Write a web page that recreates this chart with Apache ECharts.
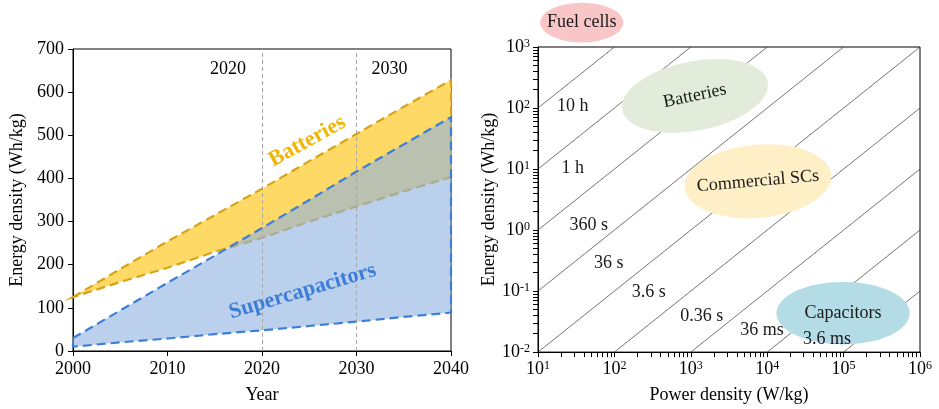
<!DOCTYPE html>
<html>
<head>
<meta charset="utf-8">
<script src="https://cdn.jsdelivr.net/npm/echarts@6/dist/echarts.min.js"></script>
<style>
  html, body { margin: 0; padding: 0; background: #fff; }
  #chart { width: 939px; height: 409px; }
</style>
</head>
<body>
<div id="chart"></div>
<script>
// ---- Left panel: energy density outlook (Wh/kg) ----
const years       = [2000, 2005, 2010, 2015, 2020, 2025, 2030, 2035, 2040];
const batteryLow  = [125, 160, 193, 230, 262, 300, 335, 370, 403];
const batteryHigh = [125, 190, 254, 315, 376, 440, 503, 566, 628];
const scLow       = [10, 20, 29, 39, 48, 58, 68, 79, 89];
const scHigh      = [30, 94, 158, 221, 285, 350, 416, 479, 542];
const milestoneYears = [2020, 2030];

// Text notes on the left panel: [text, year, Wh/kg]
const trendNotes  = [['2020', 2016.4, 653], ['2030', 2033.5, 653]];
const bandNotes   = [['Batteries', 2024.8, 486], ['Supercapacitors', 2024.3, 138]];

// ---- Right panel: Ragone plot ----
// Discharge-time guide lines, in hours (E = t * P)
const dischargeHours  = [10, 1, 0.1, 0.01, 1e-3, 1e-4, 1e-5, 1e-6, 1e-7];
const dischargeLabels = ['10 h', '1 h', '360 s', '36 s', '3.6 s', '0.36 s', '36 ms', '3.6 ms'];
const dischargeLabelP = [28.5, 28.5, 46.1, 84.5, 282, 1396, 8551, 60800];
const dischargeLabelE = [108.6, 10.3, 1.22, 0.282, 0.0953, 0.0388, 0.0230, 0.0164];

// Device regions: centre (W/kg, Wh/kg) and half extent in decades
const devices          = ['Fuel cells', 'Batteries', 'Commercial SCs', 'Capacitors'];
const devicePower      = [37.4, 1132, 7568, 98400];
const deviceEnergy     = [2512, 157.8, 6.31, 0.0434];
const devicePowerSpan  = [0.544, 0.97, 0.963, 0.872];
const deviceEnergySpan = [0.325, 0.57, 0.60, 0.512];

const powerRange  = [10, 1e6];
const energyRange = [0.01, 1000];

// ---- styling ----
const FONT = '"Liberation Serif", "Times New Roman", serif';
const deviceFill = ['#F8C6C6', '#E3ECDA', '#FEEFC6', '#B3DCE6'];
const deviceTilt = [0, 11, 5, 0];
const deviceTextTilt = [0, 12, 5, 0];
const rad = d => d * Math.PI / 180;

// Log-axis tick positions: 1..9 x 10^n inside the range
function logTicks(range) {
  const out = [];
  const e0 = Math.round(Math.log10(range[0]));
  const e1 = Math.round(Math.log10(range[1]));
  for (let e = e0; e <= e1; e++) {
    for (let m = 1; m <= 9; m++) {
      const v = m * Math.pow(10, e);
      if (v <= range[1] * 1.0001) out.push(v);
    }
  }
  return out;
}
const powerTicks  = logTicks(powerRange);
const energyTicks = logTicks(energyRange);

const axisCommon = {
  axisLine: { lineStyle: { color: '#000', width: 1 } },
  axisTick: { show: true, inside: false, length: 5, lineStyle: { color: '#000', width: 1 } },
  splitLine: { show: false },
  nameTextStyle: { fontFamily: FONT, fontSize: 18, color: '#000' }
};
const labelCommon = { fontFamily: FONT, fontSize: 18, color: '#000' };

const supLabel = {
  ...labelCommon,
  formatter: v => '10{s|' + Math.round(Math.log10(v)) + '}',
  rich: { s: { fontFamily: FONT, fontSize: 12, color: '#000', verticalAlign: 'top', lineHeight: 12, padding: [0, 0, 9, 0] } }
};

function bandSeries(low, high, fill, stroke) {
  return {
    type: 'custom', xAxisIndex: 0, yAxisIndex: 0, silent: true,
    data: [[years[0], low[0]]],
    renderItem: (params, api) => {
      const pts = [];
      for (let i = 0; i < years.length; i++) pts.push(api.coord([years[i], high[i]]));
      for (let i = years.length - 1; i >= 0; i--) pts.push(api.coord([years[i], low[i]]));
      return {
        type: 'polygon',
        shape: { points: pts },
        style: { fill: fill, stroke: stroke, lineWidth: 2.2, lineDash: [9, 5] }
      };
    }
  };
}

function noteSeries(notes, gridIdx, styler) {
  return {
    type: 'custom', xAxisIndex: gridIdx, yAxisIndex: gridIdx, silent: true, z: 5,
    data: notes.map(n => [n[1], n[2]]),
    renderItem: (params, api) => {
      const i = params.dataIndex;
      const p = api.coord([notes[i][1], notes[i][2]]);
      const s = styler(i);
      return {
        type: 'text', x: p[0], y: p[1], rotation: s.rotation || 0,
        style: {
          text: notes[i][0], fill: s.color, font: s.font,
          align: 'center', verticalAlign: 'middle'
        }
      };
    }
  };
}

// Discharge-time lines clipped to the plotted range
const guideSeries = dischargeHours.map(t => {
  const p0 = Math.max(powerRange[0], energyRange[0] / t);
  const p1 = Math.min(powerRange[1], energyRange[1] / t);
  return {
    type: 'line', xAxisIndex: 1, yAxisIndex: 1, silent: true, symbol: 'none',
    lineStyle: { color: '#3a3a3a', width: 0.7 },
    data: [[p0, t * p0], [p1, t * p1]], z: 2
  };
});

const deviceSeries = {
  type: 'custom', xAxisIndex: 1, yAxisIndex: 1, silent: true, z: 3,
  data: devices.map((d, i) => [devicePower[i], deviceEnergy[i]]),
  renderItem: (params, api) => {
    const i = params.dataIndex;
    const c = api.coord([devicePower[i], deviceEnergy[i]]);
    const ex = api.coord([devicePower[i] * Math.pow(10, devicePowerSpan[i]), deviceEnergy[i]]);
    const ey = api.coord([devicePower[i], deviceEnergy[i] * Math.pow(10, deviceEnergySpan[i])]);
    const rx = Math.abs(ex[0] - c[0]);
    const ry = Math.abs(ey[1] - c[1]);
    return {
      type: 'group',
      children: [
        {
          type: 'circle', x: c[0], y: c[1], rotation: rad(deviceTilt[i]), scaleX: rx / ry,
          shape: { cx: 0, cy: 0, r: ry }, style: { fill: deviceFill[i] }
        },
        {
          type: 'text', x: c[0], y: c[1], rotation: rad(deviceTextTilt[i]),
          style: { text: devices[i], font: '18px ' + FONT, fill: '#1a1a1a', align: 'center', verticalAlign: 'middle' }
        }
      ]
    };
  }
};

const option = {
  animation: false,
  backgroundColor: '#fff',
  grid: [
    { left: 73, top: 49, width: 378, height: 303, show: true, borderColor: '#000', borderWidth: 1, backgroundColor: 'transparent' },
    { left: 538, top: 47, width: 382, height: 308, show: true, borderColor: '#000', borderWidth: 1, backgroundColor: 'transparent' }
  ],
  xAxis: [
    {
      ...axisCommon, gridIndex: 0, type: 'value', min: 2000, max: 2040, interval: 10,
      name: 'Year', nameLocation: 'middle', nameGap: 35,
      axisLabel: { ...labelCommon, margin: 9, formatter: v => String(v) }
    },
    {
      ...axisCommon, gridIndex: 1, type: 'log', logBase: 10, min: powerRange[0], max: powerRange[1], splitNumber: 5,
      name: 'Power density (W/kg)', nameLocation: 'middle', nameGap: 33,
      axisLabel: { ...supLabel, margin: 8, showMinLabel: true, showMaxLabel: true },
      axisTick: { ...axisCommon.axisTick, length: 5, customValues: powerTicks }
    }
  ],
  yAxis: [
    {
      ...axisCommon, gridIndex: 0, type: 'value', min: 0, max: 700, interval: 100,
      name: 'Energy density (Wh/kg)', nameLocation: 'middle', nameGap: 47,
      axisLabel: { ...labelCommon, margin: 9 }
    },
    {
      ...axisCommon, gridIndex: 1, type: 'log', logBase: 10, min: energyRange[0], max: energyRange[1], splitNumber: 5,
      name: 'Energy density (Wh/kg)', nameLocation: 'middle', nameGap: 38,
      axisLabel: { ...supLabel, margin: 8, showMinLabel: true, showMaxLabel: true },
      axisTick: { ...axisCommon.axisTick, length: 5, customValues: energyTicks }
    }
  ],
  series: [
    bandSeries(batteryLow, batteryHigh, '#FFD966', '#D6A318'),
    bandSeries(scLow, scHigh, 'rgba(140,176,225,0.6)', '#3D7FD8'),
    {
      type: 'line', xAxisIndex: 0, yAxisIndex: 0, silent: true, data: [], z: 4,
      markLine: {
        silent: true, symbol: 'none', label: { show: false },
        lineStyle: { color: '#a5a5a5', width: 1, type: [4, 3] },
        data: milestoneYears.map(y => ({ xAxis: y }))
      }
    },
    noteSeries(trendNotes, 0, () => ({ color: '#000', font: '18px ' + FONT })),
    noteSeries(bandNotes, 0, i => i === 0
      ? { color: '#F2B600', font: 'bold 22px ' + FONT, rotation: rad(29) }
      : { color: '#3D7DD6', font: 'bold 22px ' + FONT, rotation: rad(16.5) }),
    ...guideSeries,
    deviceSeries,
    noteSeries(dischargeLabels.map((t, i) => [t, dischargeLabelP[i], dischargeLabelE[i]]), 1,
      () => ({ color: '#1a1a1a', font: '18px ' + FONT }))
  ]
};

const chart = echarts.init(document.getElementById('chart'), null, { renderer: 'canvas' });
chart.setOption(option);
</script>
</body>
</html>
